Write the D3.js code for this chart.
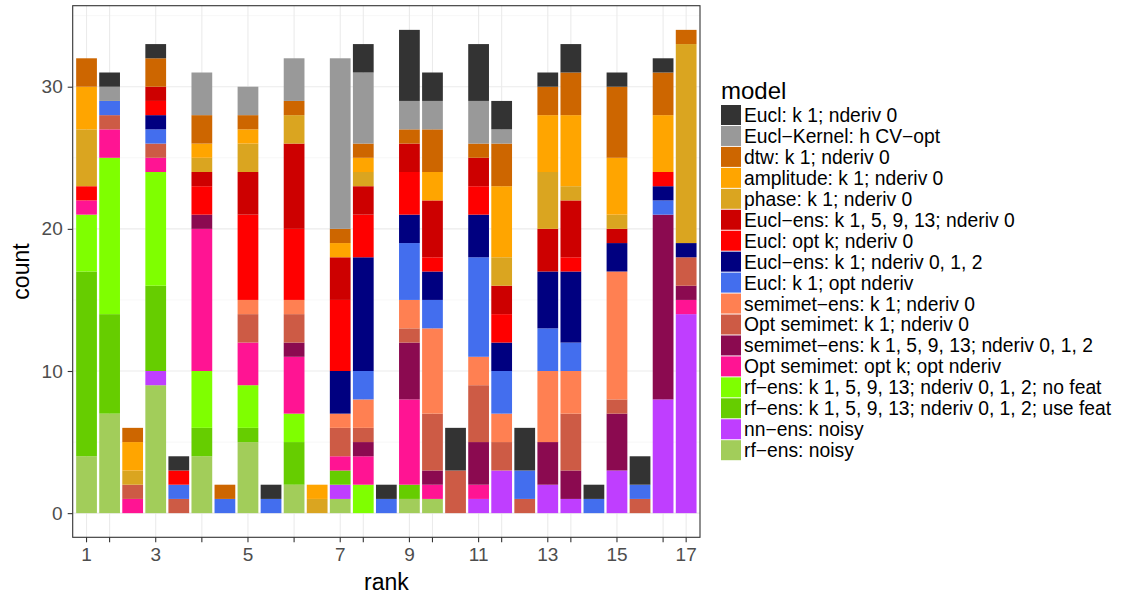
<!DOCTYPE html>
<html>
<head>
<meta charset="utf-8">
<script src="https://cdn.jsdelivr.net/npm/d3@7"></script>
<style>
body { margin: 0; background: #fff; }
svg text { font-family: "Liberation Sans", Arial, Helvetica, sans-serif; }
</style>
</head>
<body>
<div id="chart"></div>
<script>
// rank levels (ties give half ranks)
var ranks = ["1","2","2.5","3","3.5","4","4.5","5","5.5","6","6.5","7","8","8.5","9","10","10.5","11","12","12.5","13","14","14.5","15","15.5","16","17"];
var tickRanks = ["1","2","3","4","5","6","7","8","9","10","11","12","13","14","15","16","17"];
var yTicks = [0, 10, 20, 30];

var models = [
    "Eucl: k 1; nderiv 0",
    "Eucl\u2212Kernel: h CV\u2212opt",
    "dtw: k 1; nderiv 0",
    "amplitude: k 1; nderiv 0",
    "phase: k 1; nderiv 0",
    "Eucl\u2212ens: k 1, 5, 9, 13; nderiv 0",
    "Eucl: opt k; nderiv 0",
    "Eucl\u2212ens: k 1; nderiv 0, 1, 2",
    "Eucl: k 1; opt nderiv",
    "semimet\u2212ens: k 1; nderiv 0",
    "Opt semimet: k 1; nderiv 0",
    "semimet\u2212ens: k 1, 5, 9, 13; nderiv 0, 1, 2",
    "Opt semimet: opt k; opt nderiv",
    "rf\u2212ens: k 1, 5, 9, 13; nderiv 0, 1, 2; no feat",
    "rf\u2212ens: k 1, 5, 9, 13; nderiv 0, 1, 2; use feat",
    "nn\u2212ens: noisy",
    "rf\u2212ens: noisy"
];

var modelColors = ["#333333","#999999","#cd6600","#ffa500","#daa520","#cd0000","#ff0000","#000080",
    "#436eee","#ff8052","#cd5b45","#8b0a50","#ff1493","#7fff00","#66cd00","#bf3eff","#a2cd5a"];

// counts per rank, one array per model
var eucl_k1        = [0,1,0,1,1,0,0,0,1,0,0,0,2,1,5,2,3,4,2,3,1,2,1,1,2,1,0];
var eucl_kernel    = [0,1,0,0,0,3,0,2,0,3,0,12,5,0,2,2,0,3,1,0,0,0,0,0,0,0,0];
var dtw_k1         = [2,0,1,2,0,2,1,1,0,1,0,1,1,0,1,3,0,1,3,0,2,3,0,5,0,3,1];
var amplitude_k1   = [3,0,2,0,0,1,0,1,0,0,1,1,1,0,0,2,0,0,5,0,4,5,0,4,0,4,0];
var phase_k1       = [4,0,1,0,0,1,0,2,0,2,1,0,1,0,0,0,0,0,2,0,4,1,0,1,0,0,14];
var euclEns_k      = [0,0,0,1,0,1,0,3,0,6,0,3,2,0,2,4,0,2,2,0,3,4,0,1,0,0,0];
var eucl_optK      = [1,0,0,1,1,2,0,6,0,5,0,5,3,0,3,1,0,2,2,0,0,1,0,0,0,1,0];
var euclEns_nderiv = [0,0,0,1,0,0,0,0,0,0,0,3,8,0,2,2,0,3,2,0,4,5,0,2,0,1,1];
var eucl_optNderiv = [0,1,0,1,1,0,1,0,1,0,0,0,2,1,4,2,0,7,3,2,3,2,1,0,1,1,0];
var semimetEns_k1  = [0,0,0,0,0,0,0,1,0,1,0,1,2,0,2,6,0,2,2,0,5,3,0,9,0,0,0];
var optSemimet_k1  = [0,1,1,1,1,0,0,2,0,2,0,2,1,0,1,4,3,4,2,1,0,4,0,1,1,0,2];
var semimetEns_all = [0,0,0,0,0,1,0,0,0,1,0,0,1,0,4,1,0,3,0,0,3,2,0,4,0,13,1];
var optSemimet_opt = [1,2,1,1,0,10,0,3,0,4,0,1,2,0,6,1,0,1,0,0,0,0,0,0,0,0,1];
var rfEns_noFeat   = [4,11,0,8,0,4,0,3,0,2,0,0,2,0,0,0,0,0,0,0,0,0,0,0,0,0,0];
var rfEns_useFeat  = [13,7,0,6,0,2,0,1,0,3,0,1,0,0,1,0,0,0,0,0,0,0,0,0,0,0,0];
var nnEns_noisy    = [0,0,0,1,0,0,0,0,0,0,0,1,0,0,0,0,0,1,3,0,2,1,0,3,0,8,14];
var rfEns_noisy    = [4,7,0,9,0,4,0,5,0,2,0,1,0,0,1,1,0,0,0,0,0,0,0,0,0,0,0];

var series = [eucl_k1, eucl_kernel, dtw_k1, amplitude_k1, phase_k1, euclEns_k, eucl_optK,
    euclEns_nderiv, eucl_optNderiv, semimetEns_k1, optSemimet_k1, semimetEns_all,
    optSemimet_opt, rfEns_noFeat, rfEns_useFeat, nnEns_noisy, rfEns_noisy];

var width = 1121, height = 599;
var panel = {left: 72.7, right: 700, top: 5.7, bottom: 537.3};

// table for d3.stack
var table = ranks.map(function(r, i) {
    var row = {rank: r};
    models.forEach(function(m, j) { row[m] = series[j][i]; });
    return row;
});

// first legend entry sits on top of the stack
var stack = d3.stack().keys(models.slice().reverse());
var layers = stack(table);

var x = d3.scaleBand()
    .domain(ranks)
    .range([panel.left, panel.right])
    .paddingInner(0.1)
    .paddingOuter(0.15);

var y = d3.scaleLinear()
    .domain([-1.7, 35.7])
    .range([panel.bottom, panel.top]);

var color = d3.scaleOrdinal().domain(models).range(modelColors);

var svg = d3.select("#chart").append("svg")
    .attr("width", width)
    .attr("height", height);

// grid
var grid = svg.append("g").attr("class", "grid");
grid.selectAll("line.minor")
    .data([5, 15, 25, 35])
    .enter().append("line")
    .attr("x1", panel.left).attr("x2", panel.right)
    .attr("y1", function(d) { return y(d); })
    .attr("y2", function(d) { return y(d); })
    .style("stroke", "#f2f2f2")
    .style("stroke-width", 0.6);
grid.selectAll("line.hmajor")
    .data(yTicks)
    .enter().append("line")
    .attr("x1", panel.left).attr("x2", panel.right)
    .attr("y1", function(d) { return y(d); })
    .attr("y2", function(d) { return y(d); })
    .style("stroke", "#ebebeb")
    .style("stroke-width", 1.1);
grid.selectAll("line.vmajor")
    .data(tickRanks)
    .enter().append("line")
    .attr("x1", function(d) { return x(d) + x.bandwidth() / 2; })
    .attr("x2", function(d) { return x(d) + x.bandwidth() / 2; })
    .attr("y1", panel.top).attr("y2", panel.bottom)
    .style("stroke", "#ebebeb")
    .style("stroke-width", 1.1);

// bars
svg.append("g")
    .selectAll("g")
    .data(layers)
    .enter().append("g")
    .style("fill", function(d) { return color(d.key); })
    .selectAll("rect")
    .data(function(d) { return d; })
    .enter().append("rect")
    .filter(function(d) { return d[1] > d[0]; })
    .attr("x", function(d) { return x(d.data.rank); })
    .attr("width", x.bandwidth())
    .attr("y", function(d) { return y(d[1]); })
    .attr("height", function(d) { return y(d[0]) - y(d[1]); });

// panel border
svg.append("rect")
    .attr("x", panel.left).attr("y", panel.top)
    .attr("width", panel.right - panel.left)
    .attr("height", panel.bottom - panel.top)
    .style("fill", "none")
    .style("stroke", "#333333")
    .style("stroke-width", 1.1);

// axes
var xAxis = svg.append("g")
    .attr("transform", "translate(0," + panel.bottom + ")")
    .call(d3.axisBottom(x)
        .tickValues(tickRanks)
        .tickSize(5)
        .tickPadding(5)
        .tickFormat(function(d) { return (+d) % 2 === 1 ? d : ""; }));

var yAxis = svg.append("g")
    .attr("transform", "translate(" + panel.left + ",0)")
    .call(d3.axisLeft(y)
        .tickValues(yTicks)
        .tickSize(5)
        .tickPadding(5));

[xAxis, yAxis].forEach(function(a) {
    a.select(".domain").remove();
    a.selectAll(".tick line").style("stroke", "#333333").style("stroke-width", 1.1);
    a.selectAll(".tick text")
        .style("font-size", "19px")
        .style("fill", "#4d4d4d");
});

svg.append("text")
    .attr("x", (panel.left + panel.right) / 2)
    .attr("y", 590)
    .attr("text-anchor", "middle")
    .style("font-size", "23px")
    .text("rank");

svg.append("text")
    .attr("transform", "translate(29," + ((panel.top + panel.bottom) / 2) + ") rotate(-90)")
    .attr("text-anchor", "middle")
    .style("font-size", "23px")
    .text("count");

// legend
var legend = svg.append("g").attr("transform", "translate(721,0)");
legend.append("text")
    .attr("x", 0).attr("y", 99)
    .style("font-size", "24px")
    .text("model");

var item = legend.selectAll("g.item")
    .data(models)
    .enter().append("g")
    .attr("class", "item")
    .attr("transform", function(d, i) { return "translate(0," + (105 + i * 20.95) + ")"; });

item.append("rect")
    .attr("width", 20).attr("height", 20)
    .style("fill", function(d) { return color(d); });

item.append("text")
    .attr("x", 23)
    .attr("y", 10)
    .attr("dy", "0.36em")
    .style("font-size", "19.3px")
    .text(function(d) { return d; });
</script>
</body>
</html>
